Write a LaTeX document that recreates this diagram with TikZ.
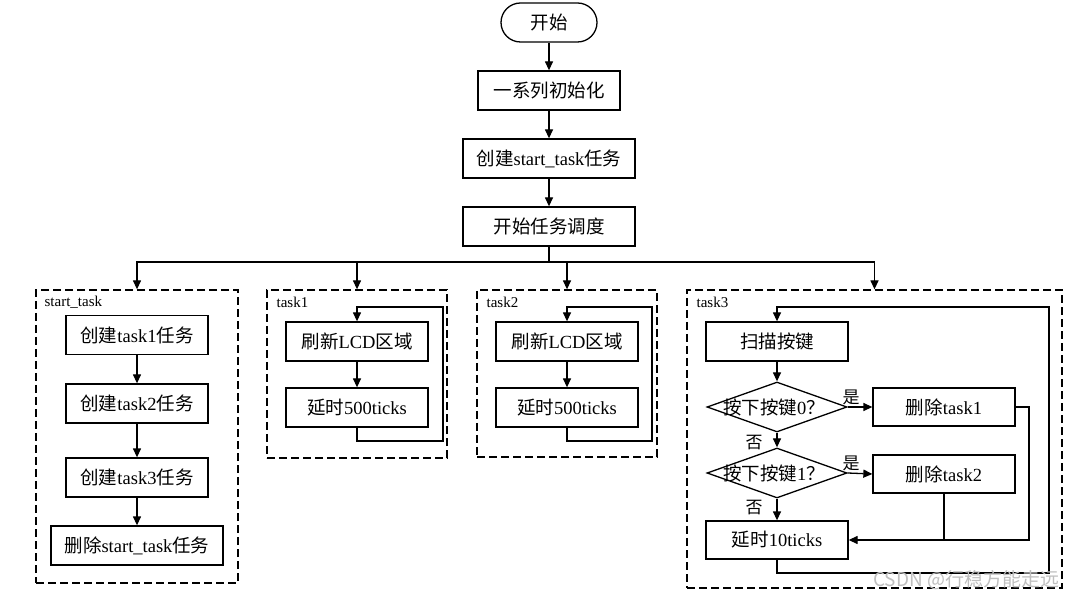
\documentclass[tikz,border=0pt]{standalone}
\usepackage{fontspec}
\setmainfont{Liberation Serif}
\newfontfamily\cjk{Noto Sans CJK SC}
\usetikzlibrary{arrows.meta,shapes.geometric}
\newcommand{\zh}[1]{{\cjk #1}}
\begin{document}
\begin{tikzpicture}[x=1pt,y=-1pt,
  every path/.style={line width=1.3pt},
  box/.style={draw, line width=1.3pt, inner sep=0pt, minimum width=142pt, minimum height=39pt, font=\fontsize{18.5}{20}\selectfont},
  group/.style={draw, line width=1.3pt, dash pattern=on 8pt off 4pt, inner sep=0pt},
  dec/.style={draw, diamond, line width=1.3pt, inner sep=0pt, minimum width=140pt, minimum height=50pt},
  arr/.style={-{Triangle[length=9pt,width=8pt]}},
  lbl/.style={font=\fontsize{15}{17}\selectfont, inner sep=0pt, anchor=west},
  yn/.style={font=\fontsize{17}{19}\selectfont\cjk, inner sep=0pt}
]
\useasboundingbox (0,0) rectangle (1071,601);
\fill[white] (0,0) rectangle (1071,601);

% main column
\node[box, rounded corners=19.5pt, minimum width=96pt] (n0) at (549,22.5) {\zh{开始}};
\node[box] (n1) at (549,90.5) {\zh{一系列初始化}};
\node[box, minimum width=172pt] (n2) at (549,158.5) {\zh{创建}start\_task\zh{任务}};
\node[box, minimum width=172pt] (n3) at (549,226.5) {\zh{开始任务调度}};
\coordinate (j) at (549,262);

% groups
\node[group, minimum width=202pt, minimum height=293pt] (D1) at (137,436.5) {};
\node[group, minimum width=180pt, minimum height=168pt] (D2) at (357,374) {};
\node[group, minimum width=180pt, minimum height=167pt] (D3) at (567,373.5) {};
\node[group, minimum width=375pt, minimum height=298pt] (D4) at (874.5,439) {};

\node[lbl] (L1) at (44,302) {start\_task};
\node[lbl] (L2) at (276,302) {task1};
\node[lbl] (L3) at (486,302) {task2};
\node[lbl] (L4) at (696,302) {task3};

\draw[arr] (n0) -- (n1);
\draw[arr] (n1) -- (n2);
\draw[arr] (n2) -- (n3);
\draw (n3) -- (j);
\draw[arr] (j) -| (D1.north);
\draw[arr] (j) -| (D2.north);
\draw[arr] (j) -| (D3.north);
\draw[arr] (j) -| (D4.north);

% start_task
\node[box] (a1) at (137,335) {\zh{创建}task1\zh{任务}};
\node[box] (a2) at (137,403.5) {\zh{创建}task2\zh{任务}};
\node[box] (a3) at (137,477.5) {\zh{创建}task3\zh{任务}};
\node[box, minimum width=172pt] (a4) at (137,545.5) {\zh{删除}start\_task\zh{任务}};
\draw[arr] (a1) -- (a2);
\draw[arr] (a2) -- (a3);
\draw[arr] (a3) -- (a4);

% task1
\node[box] (b1) at (357,341.5) {\zh{刷新}LCD\zh{区域}};
\node[box] (b2) at (357,407.5) {\zh{延时}500ticks};
\draw[arr] (b1) -- (b2);
\coordinate (b3) at (443,441);
\coordinate (b4) at (443,307);
\draw[arr] (b2.south) |- (b3) -- (b4) -| (b1.north);

% task2
\node[box] (c1) at (567,341.5) {\zh{刷新}LCD\zh{区域}};
\node[box] (c2) at (567,407.5) {\zh{延时}500ticks};
\draw[arr] (c1) -- (c2);
\coordinate (c3) at (652,441);
\coordinate (c4) at (652,307);
\draw[arr] (c2.south) |- (c3) -- (c4) -| (c1.north);

% task3
\node[box] (d1) at (777,341.5) {\zh{扫描按键}};
\node[dec] (q1) at (777,407) {};
\node[font=\fontsize{18.5}{20}\selectfont, inner sep=0pt] (q1t) at (774,407) {\zh{按下按键}0\zh{？}};
\node[dec] (q2) at (777,473) {};
\node[font=\fontsize{18.5}{20}\selectfont, inner sep=0pt] (q2t) at (774,473) {\zh{按下按键}1\zh{？}};
\node[box, minimum height=38pt] (e1) at (944,407) {\zh{删除}task1};
\node[box, minimum height=38pt] (e2) at (944,474) {\zh{删除}task2};
\node[box, minimum height=38pt] (d2) at (777,540) {\zh{延时}10ticks};

\draw[arr] (d1) -- (q1);
\draw[arr] (q1) -- (q2);
\draw[arr] (q2) -- (d2);
\draw[arr] (q1.east) -- (e1.west);
\draw[arr] (q2.east) -- (e2.west);
\node[yn] (y1) at (851,397) {是};
\node[yn] (y2) at (851,463) {是};
\node[yn] (m1) at (754,443) {否};
\node[yn] (m2) at (754,508) {否};

\coordinate (e3) at (1029,407);
\draw[arr] (e1.east) -- (e3) |- (d2.east);
\draw (e2.south) -- (e2.south |- d2.east);
\coordinate (d3) at (1049,573);
\coordinate (d4) at (1049,307);
\draw[arr] (d2.south) |- (d3) -- (d4) -| (d1.north);

% watermark
\node[font=\fontsize{19}{21}\selectfont\cjk, text=gray!50, inner sep=0pt, anchor=east] (wm) at (1060,580) {CSDN @行稳方能走远};
\end{tikzpicture}
\end{document}
